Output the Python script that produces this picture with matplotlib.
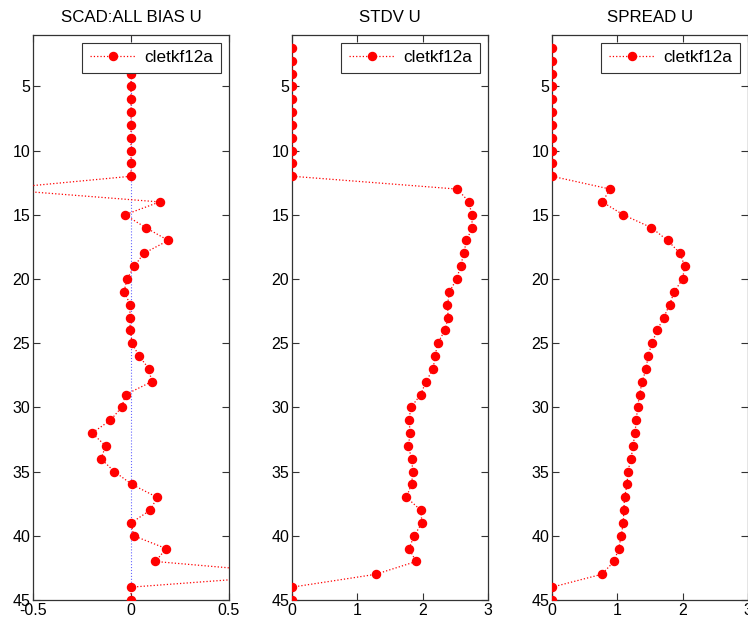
import numpy as np
import matplotlib
matplotlib.use('Agg')
import matplotlib.pyplot as plt

plt.rcParams['font.family'] = ['Liberation Sans', 'DejaVu Sans']
plt.rcParams['font.size'] = 11

# model levels 2..45
levels = list(range(2, 46))

bias_u = [0, 0, 0, 0, 0, 0, 0, 0, 0, 0, 0,
          -0.69, 0.146, -0.031, 0.075, 0.19, 0.066, 0.017, -0.02, -0.036,
          -0.003, -0.007, -0.003, 0.005, 0.041, 0.092, 0.105, -0.027, -0.048,
          -0.105, -0.199, -0.129, -0.153, -0.085, 0.005, 0.133, 0.099, 0.0,
          0.014, 0.18, 0.124, 0.88, 0.0, 0.0]

stdv_u = [0, 0, 0, 0, 0, 0, 0, 0, 0, 0, 0,
          2.53, 2.71, 2.75, 2.76, 2.67, 2.63, 2.58, 2.52, 2.41,
          2.38, 2.39, 2.34, 2.23, 2.19, 2.16, 2.05, 1.97, 1.82,
          1.79, 1.81, 1.78, 1.83, 1.85, 1.83, 1.75, 1.97, 1.99,
          1.87, 1.79, 1.90, 1.28, 0.0, 0.0]

spread_u = [0, 0, 0, 0, 0, 0, 0, 0, 0, 0, 0,
            0.89, 0.77, 1.09, 1.52, 1.77, 1.96, 2.03, 2.00, 1.87,
            1.80, 1.71, 1.61, 1.53, 1.47, 1.44, 1.38, 1.34, 1.31,
            1.29, 1.27, 1.24, 1.21, 1.16, 1.15, 1.11, 1.10, 1.09,
            1.06, 1.02, 0.95, 0.76, 0.0, 0.0]

titles = ['SCAD:ALL BIAS U', 'STDV U', 'SPREAD U']
xlims = [(-0.5, 0.5), (0, 3), (0, 3)]
xticks = [[-0.5, 0, 0.5], [0, 1, 2, 3], [0, 1, 2, 3]]
xticklabels = [['-0.5', '0', '0.5'], ['0', '1', '2', '3'], ['0', '1', '2', '3']]
series = [bias_u, stdv_u, spread_u]
exp_name = 'cletkf12a'

W, H = 748, 620
fig = plt.figure(figsize=(W / 100, H / 100), dpi=100)
lefts = [33, 292, 552]
ax_w = 196
ax_bottom = (H - 600) / H
ax_h = 565 / H

for i in range(3):
    ax = fig.add_axes([lefts[i] / W, ax_bottom, ax_w / W, ax_h])
    if i == 0:
        ax.axvline(0, color='blue', linestyle=':', linewidth=0.8, alpha=0.6, zorder=1)
    ax.plot(series[i], levels, color='red', linestyle=':', linewidth=0.9,
            marker='o', markersize=5.8, markeredgecolor='red',
            markerfacecolor='red', label=exp_name, zorder=3)
    ax.set_xlim(*xlims[i])
    ax.set_ylim(45, 1)
    ax.set_xticks(xticks[i])
    ax.set_xticklabels(xticklabels[i])
    ax.set_yticks(range(5, 46, 5))
    ax.tick_params(direction='in', top=True, right=True, length=5,
                   width=0.8, color='#333333', labelsize=11.5, pad=2)
    for sp in ax.spines.values():
        sp.set_color('#333333')
        sp.set_linewidth(0.9)
    ax.set_title(titles[i], fontsize=12.2, pad=9)
    leg = ax.legend(loc='upper right', fontsize=12.3, handlelength=2.7,
                    fancybox=False, framealpha=1, borderaxespad=0.45,
                    borderpad=0.45, handletextpad=0.5)
    leg.get_frame().set_edgecolor('#333333')
    leg.get_frame().set_linewidth(0.8)
    leg.set_zorder(5)

fig.savefig('out.png', dpi=100)
